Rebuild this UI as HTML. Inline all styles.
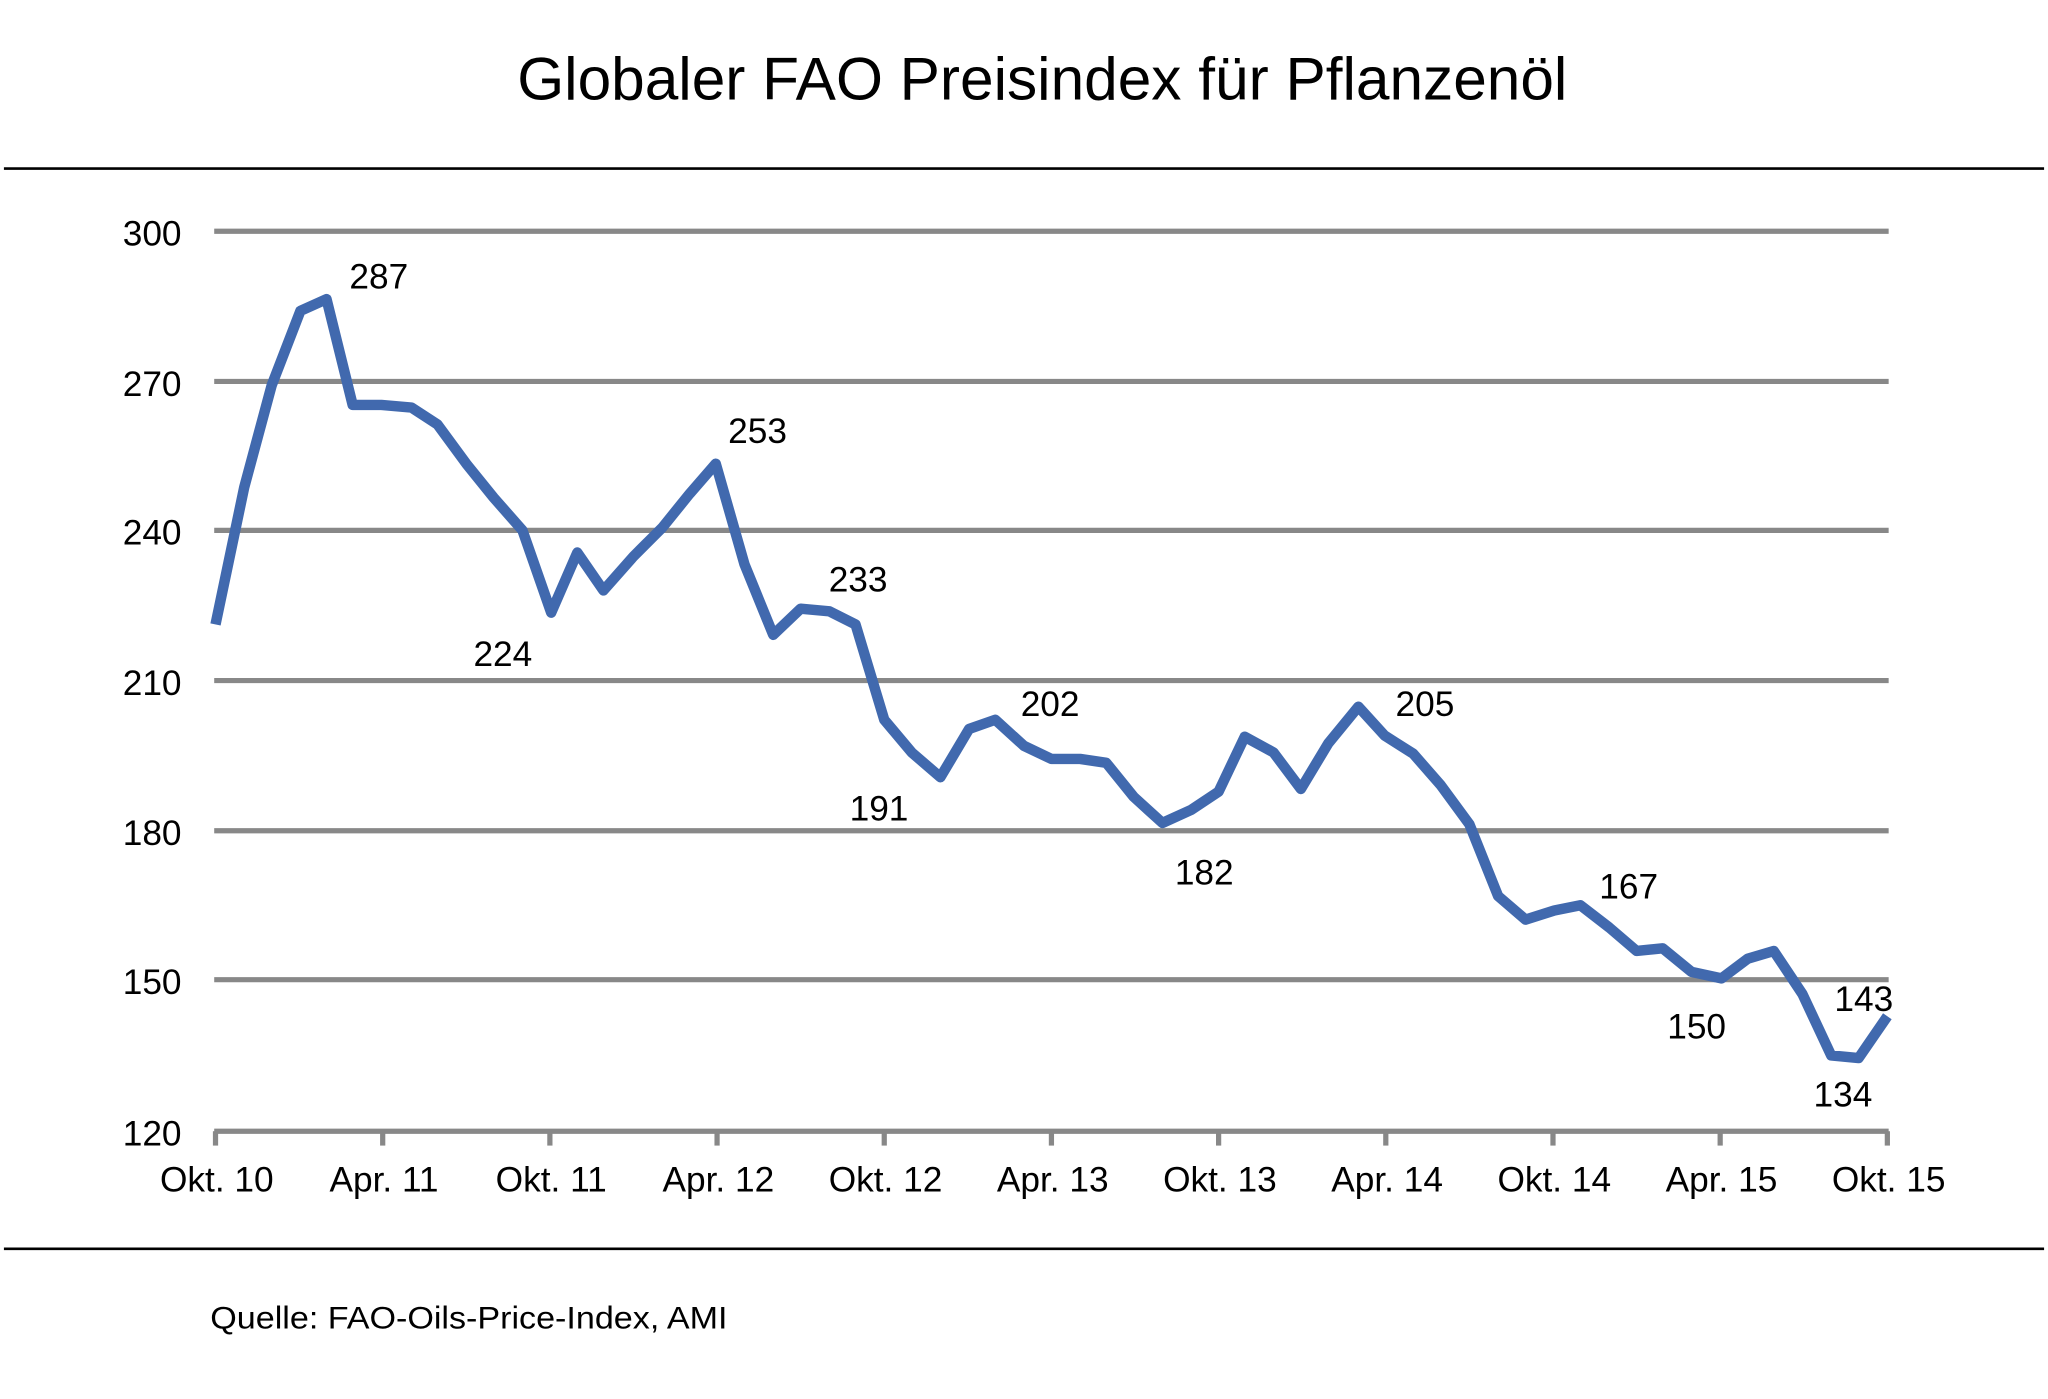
<!DOCTYPE html>
<html><head><meta charset="utf-8"><style>
html,body{margin:0;padding:0;background:#fff;}
svg{display:block;}
text{font-family:"Liberation Sans",Arial,sans-serif;fill:#000;}
</style></head><body>
<svg width="2048" height="1399" viewBox="0 0 1568 1071" preserveAspectRatio="none" xmlns="http://www.w3.org/2000/svg">
<rect width="1568" height="1071" fill="#fff"/>
<text x="798" y="76" font-size="46" text-anchor="middle" textLength="804" lengthAdjust="spacingAndGlyphs">Globaler FAO Preisindex für Pflanzenöl</text>
<line x1="3" y1="129" x2="1565" y2="129" stroke="#000" stroke-width="2"/>
<line x1="3" y1="956" x2="1565" y2="956" stroke="#000" stroke-width="2"/>
<g stroke="#888" stroke-width="4">
<line x1="164" y1="177" x2="1446" y2="177"/>
<line x1="164" y1="292" x2="1446" y2="292"/>
<line x1="164" y1="406" x2="1446" y2="406"/>
<line x1="164" y1="521" x2="1446" y2="521"/>
<line x1="164" y1="636" x2="1446" y2="636"/>
<line x1="164" y1="750" x2="1446" y2="750"/>
<line x1="164" y1="866" x2="1446" y2="866"/>
<line x1="165" y1="866" x2="165" y2="877"/><line x1="293" y1="866" x2="293" y2="877"/>
<line x1="421" y1="866" x2="421" y2="877"/><line x1="549" y1="866" x2="549" y2="877"/>
<line x1="677" y1="866" x2="677" y2="877"/><line x1="805" y1="866" x2="805" y2="877"/>
<line x1="933" y1="866" x2="933" y2="877"/><line x1="1061" y1="866" x2="1061" y2="877"/>
<line x1="1189" y1="866" x2="1189" y2="877"/><line x1="1317" y1="866" x2="1317" y2="877"/>
<line x1="1445" y1="866" x2="1445" y2="877"/>
</g>
<g font-size="27" text-anchor="end">
<text x="139" y="188">300</text><text x="139" y="303">270</text><text x="139" y="417">240</text>
<text x="139" y="532">210</text><text x="139" y="647">180</text><text x="139" y="761">150</text><text x="139" y="877">120</text>
</g>
<g font-size="27" text-anchor="middle">
<text x="166" y="912">Okt. 10</text><text x="294" y="912">Apr. 11</text><text x="422" y="912">Okt. 11</text>
<text x="550" y="912">Apr. 12</text><text x="678" y="912">Okt. 12</text><text x="806" y="912">Apr. 13</text>
<text x="934" y="912">Okt. 13</text><text x="1062" y="912">Apr. 14</text><text x="1190" y="912">Okt. 14</text>
<text x="1318" y="912">Apr. 15</text><text x="1446" y="912">Okt. 15</text>
</g>
<polyline fill="none" stroke="#4169AE" stroke-width="8" stroke-linejoin="round" points="165,478 187,373 208,295 230,238 250,229 270,310 292,310 315,312 335,325 357,355 378,381 400,406 422,469 442,423 462,452 485,426 507,404 528,378 548,355 570,432 592,486 613,466 635,468 655,478 677,551 698,576 720,595 742,558 762,551 784,571 805,581 827,581 847,584 868,610 890,630 912,620 933,606 953,564 975,576 996,604 1017,569 1040,541 1060,563 1082,577 1103,601 1125,631 1147,686 1168,704 1190,697 1210,693 1232,710 1253,728 1273,726 1295,744 1318,749 1338,734 1358,728 1380,761 1402,808 1423,810 1445,778"/>
<g font-size="27" text-anchor="middle">
<text x="290" y="221">287</text><text x="385" y="510">224</text><text x="580" y="339">253</text>
<text x="657" y="453">233</text><text x="673" y="628">191</text><text x="804" y="548">202</text>
<text x="922" y="677">182</text><text x="1091" y="548">205</text><text x="1247" y="688">167</text>
<text x="1299" y="795">150</text><text x="1427" y="774">143</text><text x="1411" y="847">134</text>
</g>
<text x="161" y="1017" font-size="24" textLength="396" lengthAdjust="spacingAndGlyphs">Quelle: FAO-Oils-Price-Index, AMI</text>
</svg>
</body></html>
